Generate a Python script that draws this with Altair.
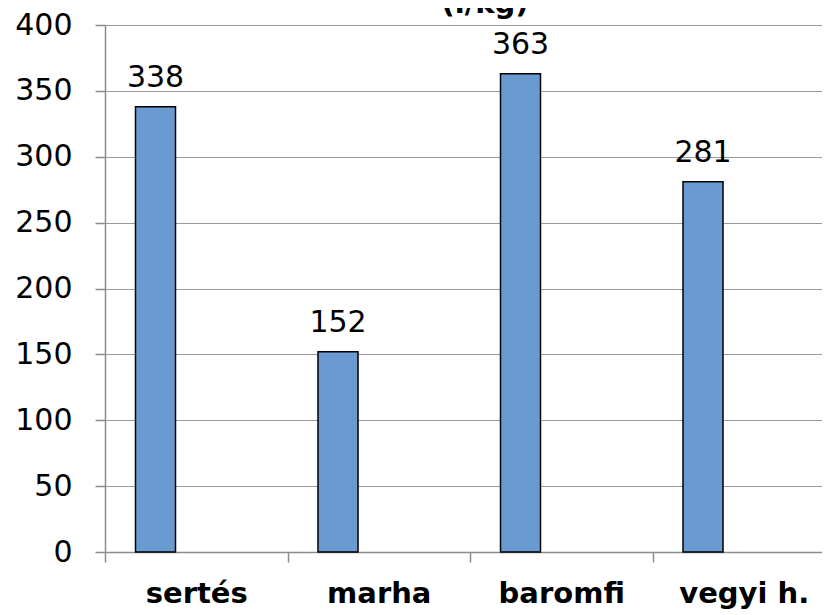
import altair as alt
import pandas as pd

categories = ["sertés", "marha", "baromfi", "vegyi h."]
values = [338, 152, 363, 281]
y_ticks = [0, 50, 100, 150, 200, 250, 300, 350, 400]
title_text = "(l/kg)"

df = pd.DataFrame({"cat": categories, "val": values})
title_df = pd.DataFrame({"t": [title_text]})

FONT = "DejaVu Sans"
BAR_X_OFFSET = -40.75

x_enc = alt.X(
    "cat:N",
    sort=categories,
    scale=alt.Scale(range=[0, 730], paddingInner=0, paddingOuter=0),
    axis=alt.Axis(
        title=None,
        labelAngle=0,
        labelFont=FONT,
        labelFontSize=29,
        labelFontWeight="bold",
        labelColor="black",
        labelBaseline="alphabetic",
        labelPadding=40,
        tickBand="extent",
        tickSize=10,
        tickColor="#8c8c8c",
        domainColor="#8c8c8c",
        domainWidth=1.5,
        tickWidth=1.5,
        grid=False,
    ),
)

y_enc = alt.Y(
    "val:Q",
    scale=alt.Scale(domain=[0, 400], nice=False),
    axis=alt.Axis(
        title=None,
        values=y_ticks,
        labelFont=FONT,
        labelFontSize=30,
        labelColor="black",
        labelPadding=23,
        tickSize=10,
        tickColor="#8c8c8c",
        domainColor="#8c8c8c",
        domainWidth=1.5,
        tickWidth=1.5,
        grid=True,
        gridColor="#9a9a9a",
        gridWidth=1.2,
    ),
)

bars = alt.Chart(df).mark_bar(
    width=40,
    xOffset=BAR_X_OFFSET,
    color="#6a9bd0",
    stroke="black",
    strokeWidth=1.5,
).encode(x=x_enc, y=y_enc)

labels = alt.Chart(df).mark_text(
    font=FONT,
    fontSize=30,
    color="black",
    baseline="alphabetic",
    align="center",
    dy=-20,
    xOffset=BAR_X_OFFSET,
).encode(
    x=alt.X("cat:N", sort=categories),
    y=alt.Y("val:Q"),
    text=alt.Text("val:Q"),
)

title_mark = alt.Chart(title_df).mark_text(
    font=FONT,
    fontSize=29,
    fontWeight="bold",
    color="black",
    baseline="alphabetic",
    align="center",
).encode(
    x=alt.value(380),
    y=alt.value(-12),
    text="t:N",
)

chart = (
    alt.layer(bars, labels, title_mark)
    .properties(
        width=717,
        height=527,
        autosize=alt.AutoSizeParams(type="none"),
        padding={"left": 97, "top": 17, "right": 0, "bottom": 62},
    )
    .configure_view(stroke=None)
    .configure(background="white")
)

chart.save("out.html", embed_options={"renderer": "svg", "actions": False})
